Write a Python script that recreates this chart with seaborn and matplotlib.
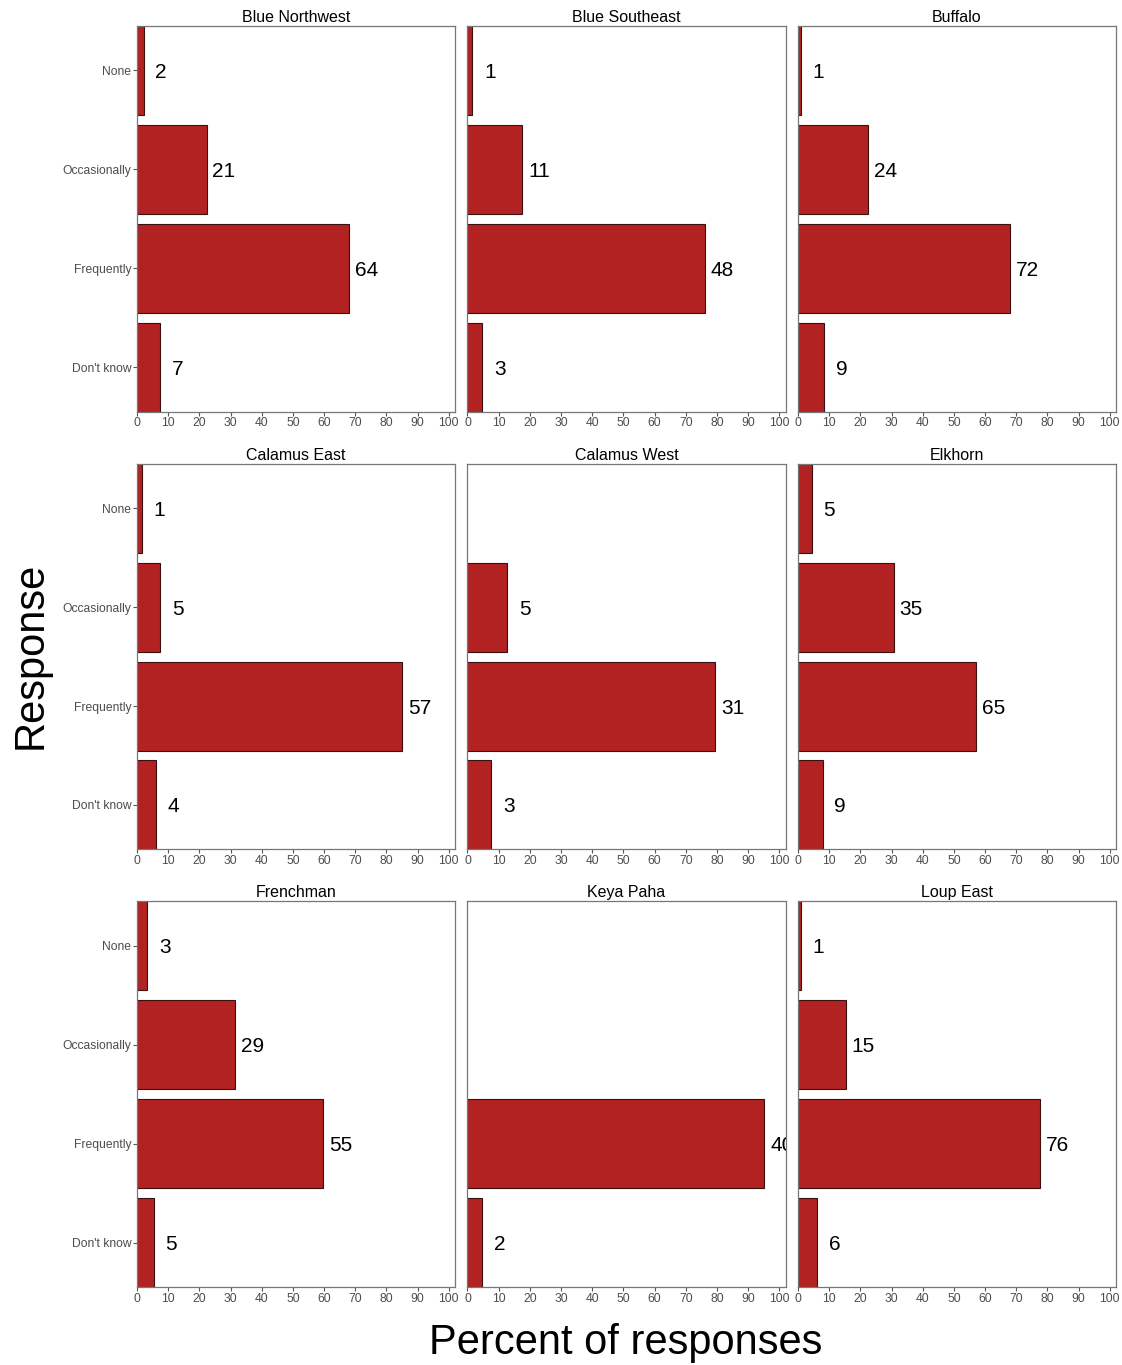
import matplotlib.pyplot as plt
import pandas as pd
import seaborn as sns

# survey responses by region: counts shown as labels, bar length = percent of responses
regions = ['Blue Northwest', 'Blue Southeast', 'Buffalo',
           'Calamus East', 'Calamus West', 'Elkhorn',
           'Frenchman', 'Keya Paha', 'Loup East']
responses = ['None', 'Occasionally', 'Frequently', "Don't know"]

# None = no bar for that response
counts = {
    'Blue Northwest': [2, 21, 64, 7],
    'Blue Southeast': [1, 11, 48, 3],
    'Buffalo': [1, 24, 72, 9],
    'Calamus East': [1, 5, 57, 4],
    'Calamus West': [None, 5, 31, 3],
    'Elkhorn': [5, 35, 65, 9],
    'Frenchman': [3, 29, 55, 5],
    'Keya Paha': [None, None, 40, 2],
    'Loup East': [1, 15, 76, 6],
}
percents = {
    'Blue Northwest': [2.1, 22.3, 68.1, 7.4],
    'Blue Southeast': [1.6, 17.5, 76.2, 4.8],
    'Buffalo': [0.9, 22.6, 67.9, 8.5],
    'Calamus East': [1.5, 7.5, 85.1, 6.0],
    'Calamus West': [None, 12.8, 79.5, 7.7],
    'Elkhorn': [4.4, 30.7, 57.0, 7.9],
    'Frenchman': [3.3, 31.5, 59.8, 5.4],
    'Keya Paha': [None, None, 95.2, 4.8],
    'Loup East': [1.0, 15.3, 77.6, 6.1],
}

rows = []
for r in regions:
    for resp, n, p in zip(responses, counts[r], percents[r]):
        if n is not None:
            rows.append({'region': r, 'response': resp, 'count': n, 'percent': p})
df = pd.DataFrame(rows)

sns.set_style('white')
plt.rcParams['font.family'] = ['Liberation Sans', 'DejaVu Sans']

fig, axs = plt.subplots(3, 3, figsize=(11.22, 13.65), dpi=100)
fig.subplots_adjust(left=0.1221, right=0.9947, top=0.981, bottom=0.057,
                    wspace=0.039, hspace=0.135)

for i, (ax, r) in enumerate(zip(axs.flat, regions)):
    sub = df[df['region'] == r]
    sns.barplot(data=sub, x='percent', y='response', order=responses, ax=ax,
                color='#B22222', saturation=1, edgecolor='#3a1010', linewidth=0.8,
                width=0.9)
    # labels centred a fixed distance past the bar end
    for _, row in sub.iterrows():
        ax.text(row['percent'] + 5.6, responses.index(row['response']), str(row['count']),
                va='center_baseline', ha='center', fontsize=15, color='black', clip_on=True)
    ax.set_xlim(0, 102)
    ax.set_ylim(3.45, -0.45)
    ax.set_xticks(range(0, 101, 10))
    ax.set_title(r, fontsize=11.5, color='black', pad=3)
    ax.set_xlabel('')
    ax.set_ylabel('')
    ax.tick_params(axis='both', which='both', length=3, width=0.8, color='#555555',
                   labelsize=8.7, labelcolor='#4d4d4d', pad=1, bottom=True, left=True)
    for s in ax.spines.values():
        s.set_color('#777777')
        s.set_linewidth(0.9)
    if i % 3 != 0:
        ax.set_yticklabels([])
        ax.tick_params(axis='y', left=False)

fig.text(0.027, 0.52, 'Response', rotation=90, fontsize=30, color='black',
         ha='center', va='center')
fig.text(0.558, 0.016, 'Percent of responses', fontsize=30, color='black',
         ha='center', va='center')

plt.savefig('out.png', dpi=100)
